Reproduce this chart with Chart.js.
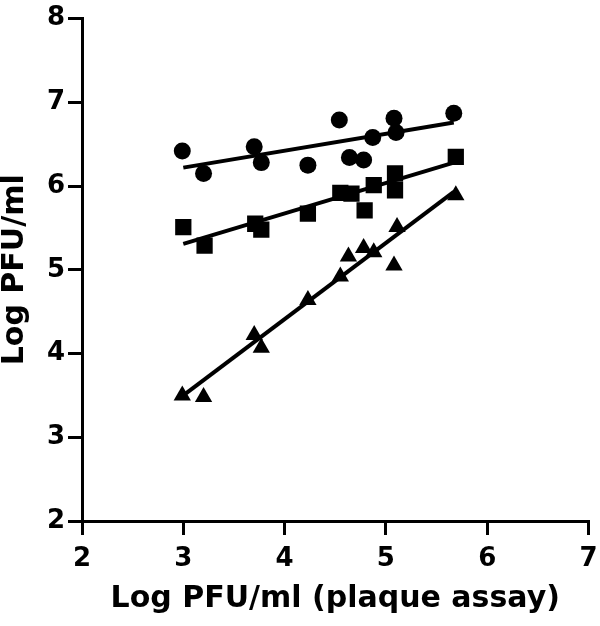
<!DOCTYPE html>
<html>
<head>
<meta charset="utf-8">
<script src="https://cdn.jsdelivr.net/npm/chart.js@4/dist/chart.umd.min.js"></script>
<style>
	html, body { margin: 0; padding: 0; background: #fff; }
	#wrap { width: 600px; height: 626px; }
</style>
</head>
<body>
<div id="wrap"><canvas id="plaqueChart" width="600" height="626"></canvas></div>
<script>
// circles
var circleX = [2.99, 3.20, 3.70, 3.77, 4.23, 4.54, 4.64, 4.78, 4.87, 5.08, 5.10, 5.67];
var circleY = [6.42, 6.15, 6.47, 6.28, 6.25, 6.79, 6.34, 6.31, 6.58, 6.81, 6.64, 6.87];
// squares
var squareX = [3.00, 3.21, 3.71, 3.77, 4.23, 4.55, 4.66, 4.79, 4.88, 5.09, 5.09, 5.69];
var squareY = [5.51, 5.29, 5.55, 5.48, 5.67, 5.92, 5.91, 5.71, 6.01, 6.15, 5.95, 6.35];
// triangles
var triangleX = [2.99, 3.20, 3.70, 3.77, 4.23, 4.55, 4.63, 4.78, 4.88, 5.08, 5.11, 5.69];
var triangleY = [3.50, 3.48, 4.22, 4.07, 4.64, 4.92, 5.16, 5.26, 5.21, 5.05, 5.51, 5.89];
// fitted lines (start, end)
var fitX = [3.0, 5.67];
var circleFit = [6.22, 6.76];
var squareFit = [5.31, 6.28];
var triangleFit = [3.50, 5.93];
var xTicks = [2, 3, 4, 5, 6, 7];
var yTicks = [2, 3, 4, 5, 6, 7, 8];

function pts(xs, ys) {
	var out = [];
	for (var i = 0; i < xs.length; i++) {
		out.push({ x: xs[i], y: ys[i] });
	}
	return out;
}

function markerSet(xs, ys, style, r) {
	return {
		type: "scatter",
		data: pts(xs, ys),
		pointStyle: style,
		pointRadius: r,
		backgroundColor: "#000",
		borderColor: "#000",
		borderWidth: 0
	};
}

function fitSet(ys) {
	return {
		type: "line",
		data: pts(fitX, ys),
		borderColor: "#000",
		borderWidth: 4,
		pointRadius: 0,
		fill: false
	};
}

var font = "'DejaVu Sans', sans-serif";

new Chart("plaqueChart", {
	type: "scatter",
	data: {
		datasets: [
			fitSet(circleFit),
			fitSet(squareFit),
			fitSet(triangleFit),
			markerSet(circleX, circleY, "circle", 8.5),
			markerSet(squareX, squareY, "rect", 11.5),
			markerSet(triangleX, triangleY, "triangle", 10)
		]
	},
	options: {
		responsive: false,
		animation: false,
		layout: { padding: { top: 14, right: 10, left: 0, bottom: 0 } },
		plugins: {
			legend: { display: false },
			tooltip: { enabled: false }
		},
		scales: {
			x: {
				type: "linear",
				min: 2,
				max: 7,
				afterBuildTicks: function(scale) {
					scale.ticks = xTicks.map(function(v) { return { value: v }; });
				},
				afterFit: function(scale) {
					scale.height = 105;
					scale.paddingRight = 0;
				},
				border: { display: true, color: "#000", width: 3 },
				grid: { display: true, drawOnChartArea: false, drawTicks: true, tickLength: 14, color: "#000", lineWidth: 3 },
				ticks: { color: "#000", font: { family: font, size: 26, weight: "bold" }, padding: 9, maxRotation: 0 },
				title: {
					display: true,
					text: "Log PFU/ml (plaque assay)",
					color: "#000",
					font: { family: font, size: 30, weight: "bold", lineHeight: 1 },
					padding: { top: 0, bottom: 12 }
				}
			},
			y: {
				type: "linear",
				min: 2,
				max: 8,
				afterBuildTicks: function(scale) {
					scale.ticks = yTicks.map(function(v) { return { value: v }; });
				},
				afterFit: function(scale) { scale.width = 82; },
				border: { display: true, color: "#000", width: 3 },
				grid: { display: true, drawOnChartArea: false, drawTicks: true, tickLength: 14, color: "#000", lineWidth: 3 },
				ticks: { color: "#000", font: { family: font, size: 26, weight: "bold" }, padding: 3 },
				title: {
					display: true,
					text: "Log PFU/ml",
					color: "#000",
					font: { family: font, size: 30, weight: "bold", lineHeight: 1 },
					padding: { top: 0, bottom: 0 }
				}
			}
		}
	}
});
</script>
</body>
</html>
